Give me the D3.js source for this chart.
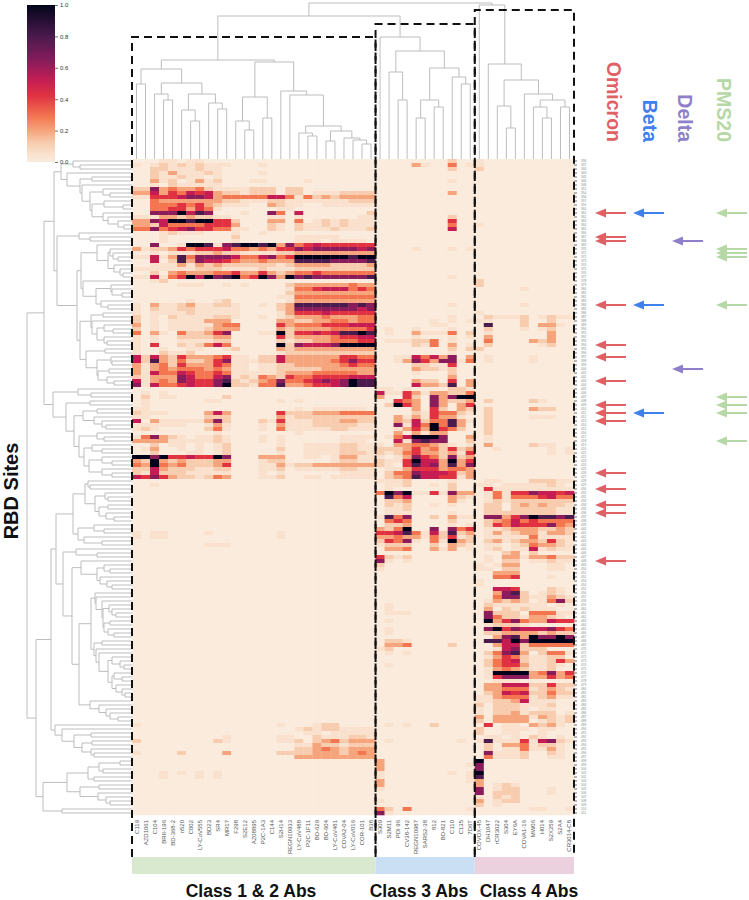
<!DOCTYPE html>
<html>
<head>
<meta charset="utf-8">
<script src="https://cdnjs.cloudflare.com/ajax/libs/d3/7.8.5/d3.min.js"></script>
<style>
  html, body { margin: 0; padding: 0; background: #fff; }
  text { font-family: "Liberation Sans", Arial, sans-serif; }
</style>
</head>
<body>
<div id="chart"></div>
<script>
const class12Labels = ['C119','AZD1061','C104','BRII-196','BD-368-2','n520','C002','LY-CoV555','BD23','SR4','MR17','F298','S2E12','AZ08895','P2C-1A3','C144','S2H14','REGN10933','LY-CoV488','P2C-1F11','BD-629','BD-604','LY-CoV481','COVA2-04','LY-CoV016','COR-101','B38'];
const class3Labels = ['S309','S2M11','PDI 96','CV38-142','REGN10987','SARS2-38','812','BD-821','C110','C135','7D6T'];
const class4Labels = ['COVOX-45','DH1047','rCR3022','S304','EY6A','COVA1-16','MW06','H014','S2X259','S2A4','CR3014-C8'];

const siteLabels = [336,337,340,343,345,346,348,351,354,356,357,359,360,361,362,363,364,365,366,367,368,369,370,371,372,373,374,375,376,377,378,379,380,381,382,383,384,385,386,387,388,389,390,391,392,393,394,395,396,397,398,399,400,401,402,403,404,405,406,407,408,409,410,411,412,413,414,415,416,417,418,419,420,421,422,423,424,425,426,427,428,429,430,431,432,433,434,435,436,437,438,439,440,441,442,443,444,445,446,447,448,449,450,451,452,453,454,455,456,457,458,459,460,461,462,463,464,465,466,467,468,469,470,471,472,473,474,475,476,477,478,479,480,481,482,483,484,485,486,487,488,489,490,491,492,493,494,495,496,497,498,499,500,501,502,503,504,505,506,507,508,509,510,511];

// heat levels per row (one digit per antibody), levelValues turns a digit into the 0-1 value
const levelValues = [0, 0.05, 0.12, 0.2, 0.29, 0.42, 0.52, 0.64, 0.8, 1];

const class12Rows = [
  "000110110","101212121110001","002211121100","002131112100001","002112110100",
  "00312013120001100001","001021111100","227343342111122202200000000","336354656322122202201112222","115556776344444664142323333",
  "004333333322111221111111222","004445453211100321100111111","004455354100000011","007779687000100740600000002","111332322110000110100000011",
  "337699899552000330401212111","332644445553000210211212111","447456755441100210211121112","000121110001001","000100000002000000111110000",
  "000100000001000000111011110","007001998178998937456555555","312235455564434355767777767","001011122322111122333333333","116138477776446745999999899",
  "006028376654334333888877778","001113132322222212333322223","111111122211112111222222222","002034333445335323445444444","116145969789459739787777778",
  "0012","000001110010100002333333433","000000000000000001445666454","000000000000000002333333333","000000000000000011444444444",
  "000000100120000001333333333","103112311221001023888888787","102112211111000023777777767","101111211111000013555655555","201021111221001012333433344",
  "201011113330000033223344344","301011111344000053444555666","201011112333000032333344445","403104223570001192556568898","101002222330000052333345566",
  "101001111220000021223344455","105002124640000092766679999","100100110012000032333333333","100211200000000012222222222","626325333451102263333335544",
  "628324223571112263333345755","313425333541101122333334544","313434443431101122222333333","316446544541111123334444433","213337644671214325445555666",
  "613437655782123474456767988","716445655792214483345567988","","0101","02011000002",
  "010000001100000010100000000","01","110000000000000000101111110","211100003630000052223334444","110000002220000031222222222",
  "603111113720002151112223322","111111001310001031112222211","121000002410001041111122111","0000000001000000001","147321011210001010000001111",
  "333311111210001010000001110","002011010120000010011112211","013001010120000020011112211","002000110120000010011112221","997955655970003330011013311",
  "329323222330001220000012211","439434222350001131223333333","226322211220001120111112211","216222111110001010000001111","657532212430001120011011111",
  "","001","","","","","","","","","","","","10110000100000001","10110000000000001","","00000000111","","","",
  "","","","","","","","","","","","","","","","","","","","",
  "","","","","","","","","","","","","","","","","","","","",
  "","10000000000000001000122","000000000000000000121221111","000000000000000000011011111","000000000010000011002111221",
  "200000000210000011202342333","000000000000000000113221222","000000000000000000223432333","100002000030000022223332343","000000000000000000333333333",
  "","","","000101010100","00010001010","","","","","","","","",""
];

const class3Rows = [
  "00000000200","00003100401","00000000200","","","000000001","","","000000003","",
  "","","","","000000002","000000005","000000004","000000006","","",
  "","","00001000101","","","","","","","000000001",
  "","","","","","","000000001","","","000000001",
  "00000010101","00000011","01001000100","01003111402","00001000101","01112240100","00002140301","00000000202","000000001","00116463703",
  "00137537714","00002211500","00003221200","00001000200","00000000300","00003220503","00006332803","11010000221","61153133224","30052073799",
  "00543073223","02953073035","00003052032","00002154421","00313153310","00326244831","00716494830","00135395420","00303133000","01469997003",
  "00617877002","10334432101","22235342523","21245332315","10137542723","21159663935","21058673837","01135553443","02447666523","02348665513",
  "11120000100","01120010200","01000000200","49791151733","08460000321","02230000310","02120010100","01120000000","01110000100","18470020311",
  "04540000200","02230000101","32490070745","55684162823","33433142512","25471041932","12220020321","03340031301","","52120000000",
  "71010000000","2","1","","","","","","","",
  "","01","01","01110000000","","01","","01","01","",
  "0221","03340000200","12","0101","","","01","","","",
  "","","","","","","","","","",
  "","01010020000","","","","01000000010","","","","",
  "3","30000000001","3","10000000101","10000000001","30000000001","3","1","","",
  "1","","42040000001","71"
];

const class4Rows = [
  "1","1","2","","","","","","","",
  "","","","","","","1","","","",
  "","","","","","","","","","",
  "2","2","000001","","","","000001","","1","02111201211",
  "11000200200","08000203310","02000101200","01000000300","03000000300","040000323","02000001200","2","","01000010000",
  "01000010000","","","","","","","","","",
  "02000021000","","02000032200","02","02000011100","02","02","02","02","01",
  "01","03000021100","00100000101","00000000101","","","","","","",
  "01100022211","11011111210","05111111111","01415576656","01414445644","01212222222","02202323221","02202222211","02222222211","07735798878",
  "02346454444","02546555743","01123332232","01312331332","01111141111","02312332521","01101243321","01201161211","00023020000","01033133422",
  "01022011211","10133000110","11022000110","00333","00445000100","1","1","00665000210","00378201210","00477211321",
  "01323201472","02111111010","03021211100","07222044411","07422133210","09357433655","01222100000","07957666754","02233332322","00378397797",
  "08869799999","00366244444","00167222","02478302441","01354211220","02456211253","02455311210","01343211200","01999934735","01577733534",
  "00111","03366622522","03344412321","02365622422","11344412311","11223611100","20222111200","10222101100","10223122201","30333313212",
  "20333301212","05011032310","20011101100","20011001","01101021010","18111516721","02033412210","02011411310","07111200210","04111200110",
  "9","7","7","9","8","3","30121","70122000100","70222000100","10212",
  "30122","201","00000011001",""
];

// dendrograms: [height, left, right], 0 is a leaf
const colTreeClass12 = [99,
  [90,[75,0,0],[76,[65,0,[59,0,0]],[65,[49,0,[38,0,0]],[56,0,[50,0,0]]]]],
  [97,[62,[38,0,[29,0,0]],[41,0,0]],[68,0,[64,0,[33,[26,0,[23,0,0]],[28,[18,0,0],[21,0,[19,0,[15,0,0]]]]]]]]];
const colTreeClass3 = [122,0,[108,[87,0,[59,0,0]],[91,[59,[41,0,0],[52,0,0]],[82,0,[75,0,0]]]]];
const colTreeClass4 = [154,0,[95,0,[79,[53,0,[31,0,0]],[65,0,[59,[52,0,[41,0,0]],[52,0,0]]]]]];
const colTree = [156,[143,colTreeClass12,colTreeClass3],colTreeClass4];

const rowTreeS1 = [71,[59,0,[52,0,0]],[65,0,[52,[40,0,0],[50,0,[42,[29,0,[22,0,0]],[40,[28,0,[9,0,0]],[29,0,[24,0,[14,0,[8,0,0]]]]]]]]]];
const rowTreeS2 = [53,0,[42,0,0]];
const rowTreeS3 = [35,0,[24,[22,0,[19,0,[14,0,0]]],[18,0,[12,0,[9,0,0]]]]];
const rowTreeS4 = [49,0,[36,[21,0,[20,0,[10,0,0]]],[31,0,[24,0,0]]]];
const rowTreeS5 = [41,[29,0,0],[40,0,[35,[28,0,[19,0,0]],[28,0,[25,0,0]]]]];
const rowTreeS6 = [46,[27,0,0],[35,[21,0,[20,0,0]],[34,[23,0,0],[25,0,[18,0,0]]]]];
const rowTreeT2 = [79,[54,0,[41,0,0]],[66,[42,0,0],[58,[49,[35,0,0],[38,0,[30,0,[26,0,0]]]],[53,[35,0,[28,0,0]],[48,[40,0,[30,0,0]],[43,[30,0,[20,0,0]],[30,0,[20,0,0]]]]]]]];
const rowTreeTop = [88,[78,rowTreeS1,[75,rowTreeS2,[55,[51,rowTreeS3,rowTreeS4],[52,rowTreeS5,rowTreeS6]]]],rowTreeT2];

const rowTreeB1 = [59,
  [47,[44,0,[42,0,0]],[37,[27,0,[24,0,0]],[33,[24,0,0],[26,0,[18,0,0]]]]],
  [54,[38,0,[28,0,0]],[48,0,[30,0,0]]]];
const rowTreeB2a = [37,0,[36,0,[30,0,[29,[23,0,[20,0,[16,0,0]]],[28,[22,0,0],[24,0,[18,0,0]]]]]]];
const rowTreeB2b = [38,[30,0,0],[36,0,[33,0,[24,[20,0,[12,0,[8,0,0]]],[20,[18,0,[10,0,0]],[16,0,[10,0,[7,0,0]]]]]]]];
const rowTreeB2 = [69,[56,0,[35,0,0]],[60,[51,0,[35,[28,0,[22,0,0]],[32,0,[25,0,[20,0,0]]]]],[53,[41,rowTreeB2a,rowTreeB2b],[42,0,[33,0,[26,0,[22,0,[14,0,0]]]]]]]];
const rowTreeB3 = [77,0,[70,0,[58,[41,0,0],[50,[40,0,0],[41,0,[38,0,0]]]]]];
const rowTreeB4 = [89,[65,[44,[33,[12,0,0],[29,0,0]],[38,0,0]],[52,[33,0,0],[34,0,[26,0,[22,0,0]]]]],[70,0,0]];
const rowTreeBottom = [96,[81,[76,rowTreeB1,rowTreeB2],rowTreeB3],rowTreeB4];
const rowTree = [105,rowTreeTop,rowTreeBottom];

// arrows, given as row index of the heatmap
const omicronRows = [13,19,20,36,46,49,55,61,63,65,78,82,86,88,100];
const betaRows = [13,36,63];
const deltaRows = [20,52];
const pms20Rows = [13,22,23,24,36,59,61,63,70];

const colLabels = class12Labels.concat(class3Labels, class4Labels);
const rowKeys = d3.range(class12Rows.length);

const width = 749, height = 900;
const heat = { left: 132, right: 574, top: 159, bottom: 815 };
const boxBottom = 857;

const svg = d3.select('#chart').append('svg')
  .attr('width', width)
  .attr('height', height)
  .style('display', 'block');

const x = d3.scaleBand().domain(d3.range(colLabels.length)).range([heat.left, heat.right]);
const y = d3.scaleBand().domain(rowKeys).range([heat.top, heat.bottom]);

// rocket palette, reversed
const color = d3.scaleLinear()
  .domain([0, 0.05, 0.12, 0.2, 0.29, 0.42, 0.52, 0.64, 0.8, 1])
  .range(['#faebdd', '#f9e1cd', '#f8cdaf', '#f6a47c', '#f37651', '#e13342', '#c51e53', '#8a1c5b', '#4a1a4d', '#03051a'])
  .clamp(true);

// heatmap
const cells = [];
rowKeys.forEach(r => {
  const row = class12Rows[r].padEnd(27, '0') + class3Rows[r].padEnd(11, '0') + class4Rows[r].padEnd(11, '0');
  row.split('').forEach((d, c) => cells.push({ r, c, v: levelValues[+d] }));
});

const defs = svg.append('defs');
// the source picture is a bit soft, cells bleed into each other
defs.append('filter').attr('id', 'soft')
  .attr('x', 0).attr('y', 0).attr('width', 1).attr('height', 1)
  .append('feGaussianBlur').attr('stdDeviation', 0.45);

svg.append('g').attr('filter', 'url(#soft)').selectAll('rect')
  .data(cells)
  .enter()
  .append('rect')
  .attr('x', d => x(d.c))
  .attr('y', d => y(d.r))
  .attr('width', x.bandwidth() + 0.3)
  .attr('height', y.bandwidth() + 0.3)
  .attr('fill', d => color(d.v));

// dendrograms
function treePath(tree, leafPos, depthPos, horizontal) {
  const path = d3.path();
  let leaf = 0;
  function seg(a1, b1, a2, b2) {
    if (horizontal) { path.moveTo(b1, a1); path.lineTo(b2, a2); }
    else { path.moveTo(a1, b1); path.lineTo(a2, b2); }
  }
  function walk(node) {
    if (node === 0) {
      return { pos: leafPos(leaf++), depth: 0 };
    }
    const a = walk(node[1]);
    const b = walk(node[2]);
    const d = depthPos(node[0]);
    seg(a.pos, depthPos(a.depth), a.pos, d);
    seg(b.pos, depthPos(b.depth), b.pos, d);
    seg(a.pos, d, b.pos, d);
    return { pos: (a.pos + b.pos) / 2, depth: node[0] };
  }
  walk(tree);
  return path.toString();
}

const colDepth = d3.scaleLinear().domain([0, 159]).range([heat.top, 0]);
const rowDepth = d3.scaleLinear().domain([0, 132]).range([heat.left, 0]);

svg.append('path')
  .attr('d', treePath(colTree, i => x(i) + x.bandwidth() / 2, colDepth, false))
  .attr('fill', 'none').attr('stroke', '#bdbdbd').attr('stroke-width', 1);

svg.append('path')
  .attr('d', treePath(rowTree, i => y(i) + y.bandwidth() / 2, rowDepth, true))
  .attr('fill', 'none').attr('stroke', '#bdbdbd').attr('stroke-width', 1);

// row labels on the right
const rowAxis = d3.axisRight(y).tickSize(3).tickPadding(4).tickFormat(i => siteLabels[i]);
const rowAxisG = svg.append('g')
  .attr('transform', `translate(${heat.right},0)`)
  .call(rowAxis);
rowAxisG.select('.domain').remove();
rowAxisG.selectAll('line').attr('stroke', '#333').attr('stroke-width', 0.7);
rowAxisG.selectAll('text').attr('fill', '#888').style('font-size', '3.2px');

// column labels
svg.append('g').selectAll('text')
  .data(colLabels)
  .enter()
  .append('text')
  .attr('transform', (d, i) => `translate(${x(i) + x.bandwidth() / 2 + 2},820) rotate(-90)`)
  .attr('text-anchor', 'end')
  .attr('fill', '#555')
  .style('font-size', '6px')
  .text(d => d);

// class bars and dashed boxes
const groups = [
  { name: 'Class 1 & 2 Abs', from: 0, to: 27, top: 37, fill: '#d9e9d0', labelX: 251 },
  { name: 'Class 3 Abs', from: 27, to: 38, top: 24, fill: '#cadff3', labelX: 419 },
  { name: 'Class 4 Abs', from: 38, to: 49, top: 10, fill: '#ebd0dd', labelX: 529 }
];
const edge = i => i < colLabels.length ? x(i) : heat.right;

svg.append('g').selectAll('rect')
  .data(groups)
  .enter()
  .append('rect')
  .attr('x', d => edge(d.from))
  .attr('y', boxBottom)
  .attr('width', d => edge(d.to) - edge(d.from))
  .attr('height', 17)
  .attr('fill', d => d.fill);

svg.append('g').selectAll('path')
  .data(groups)
  .enter()
  .append('path')
  .attr('d', d => `M${edge(d.from)},${boxBottom}V${d.top}H${edge(d.to)}V${boxBottom}`)
  .attr('fill', 'none')
  .attr('stroke', '#111')
  .attr('stroke-width', 2)
  .attr('stroke-dasharray', '8,5');

svg.append('g').selectAll('text')
  .data(groups)
  .enter()
  .append('text')
  .attr('x', d => d.labelX)
  .attr('y', 897)
  .attr('text-anchor', 'middle')
  .attr('font-weight', 'bold')
  .attr('fill', '#111')
  .style('font-size', '17.5px')
  .text(d => d.name);

// colour bar
const barScale = d3.scaleLinear().domain([0, 1]).range([162, 5]);
const grad = defs.append('linearGradient')
  .attr('id', 'cbar').attr('x1', 0).attr('x2', 0).attr('y1', 1).attr('y2', 0);
color.domain().forEach(v => grad.append('stop').attr('offset', v).attr('stop-color', color(v)));

svg.append('rect')
  .attr('x', 27).attr('y', barScale(1))
  .attr('width', 28).attr('height', barScale(0) - barScale(1))
  .attr('fill', 'url(#cbar)');

const barAxis = svg.append('g')
  .attr('transform', 'translate(55,0)')
  .call(d3.axisRight(barScale).tickValues([0, 0.2, 0.4, 0.6, 0.8, 1]).tickFormat(d3.format('.1f')).tickSize(3).tickPadding(2));
barAxis.select('.domain').remove();
barAxis.selectAll('line').attr('stroke', '#333').attr('stroke-width', 0.7);
barAxis.selectAll('text').attr('fill', '#333').style('font-size', '6px');

// variant arrows
const variants = [
  { name: 'Omicron', rows: omicronRows, tip: 595, tail: 626, labelX: 607, color: '#e06164' },
  { name: 'Beta', rows: betaRows, tip: 633, tail: 664, labelX: 643, color: '#4080ec' },
  { name: 'Delta', rows: deltaRows, tip: 672, tail: 703, labelX: 678, color: '#8f7fcb' },
  { name: 'PMS20', rows: pms20Rows, tip: 716, tail: 747, labelX: 717, color: '#b5d8a6' }
];

variants.forEach(v => {
  const g = svg.append('g');
  g.selectAll('line')
    .data(v.rows)
    .enter()
    .append('line')
    .attr('x1', v.tip + 8).attr('x2', v.tail)
    .attr('y1', d => y(d) + 2).attr('y2', d => y(d) + 2)
    .attr('stroke', v.color).attr('stroke-width', 2);
  g.selectAll('path')
    .data(v.rows)
    .enter()
    .append('path')
    .attr('d', d => `M${v.tip},${y(d) + 2}l11,-4.5v9z`)
    .attr('fill', v.color);
  svg.append('text')
    .attr('transform', `translate(${v.labelX},142) rotate(90)`)
    .attr('text-anchor', 'end')
    .attr('font-weight', 'bold')
    .attr('fill', v.color)
    .style('font-size', '19.5px')
    .text(v.name);
});

// y title
svg.append('text')
  .attr('transform', 'translate(18,491) rotate(-90)')
  .attr('text-anchor', 'middle')
  .attr('font-weight', 'bold')
  .attr('fill', '#111')
  .style('font-size', '20px')
  .text('RBD Sites');
</script>
</body>
</html>
